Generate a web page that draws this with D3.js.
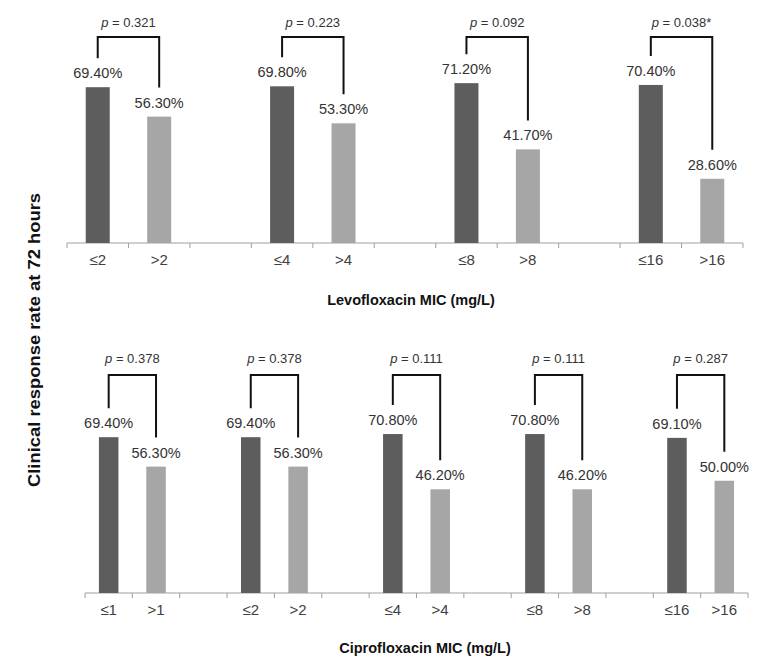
<!DOCTYPE html>
<html>
<head>
<meta charset="utf-8">
<script src="https://cdn.jsdelivr.net/npm/d3@7"></script>
<style>
  html, body { margin: 0; padding: 0; background: #fff; }
  svg { display: block; font-family: "Liberation Sans", Arial, sans-serif; }
</style>
</head>
<body>
<svg id="chart" width="766" height="664"></svg>
<script>
// ---- data ----
const levoLow = ["≤2", "≤4", "≤8", "≤16"];
const levoHigh = [">2", ">4", ">8", ">16"];
const levoLowRate = [69.4, 69.8, 71.2, 70.4];
const levoHighRate = [56.3, 53.3, 41.7, 28.6];
const levoP = ["0.321", "0.223", "0.092", "0.038*"];

const ciproLow = ["≤1", "≤2", "≤4", "≤8", "≤16"];
const ciproHigh = [">1", ">2", ">4", ">8", ">16"];
const ciproLowRate = [69.4, 69.4, 70.8, 70.8, 69.1];
const ciproHighRate = [56.3, 56.3, 46.2, 46.2, 50.0];
const ciproP = ["0.378", "0.378", "0.111", "0.111", "0.287"];

const yTitle = "Clinical response rate at 72 hours";
const levoTitle = "Levofloxacin MIC (mg/L)";
const ciproTitle = "Ciprofloxacin MIC (mg/L)";

// ---- drawing ----
const svg = d3.select("#chart");
svg.append("rect").attr("width", 766).attr("height", 664).attr("fill", "#fff");

const darkColor = "#5d5d5d";
const lightColor = "#a6a6a6";
const textColor = "#333";

function drawPanel(cfg) {
  const n = cfg.low.length;
  const slots = [];
  for (let i = 0; i < n; i++) {
    slots.push("L" + i, "H" + i);
    if (i < n - 1) slots.push("G" + i);
  }
  const x = d3.scaleBand().domain(slots).range(cfg.xRange).padding(0);
  const y = d3.scaleLinear().domain([0, 100]).range(cfg.yRange);
  const g = svg.append("g");
  const bw = x.bandwidth();
  const y0 = y(0);

  // axis line with boundary ticks
  g.append("line")
    .attr("x1", cfg.xRange[0]).attr("x2", cfg.xRange[1])
    .attr("y1", y0).attr("y2", y0)
    .attr("stroke", "#a0a0a0").attr("stroke-width", 1.2);
  const bounds = slots.map(s => x(s)).concat([cfg.xRange[1]]);
  g.selectAll(".tk").data(bounds).enter().append("line")
    .attr("x1", d => d).attr("x2", d => d)
    .attr("y1", y0).attr("y2", y0 + 5)
    .attr("stroke", "#a0a0a0").attr("stroke-width", 1);

  const groups = d3.range(n).map(i => ({
    i,
    low: cfg.low[i], high: cfg.high[i],
    lowRate: cfg.lowRate[i], highRate: cfg.highRate[i],
    p: cfg.p[i]
  }));

  groups.forEach(d => {
    const cl = x("L" + d.i) + bw / 2;
    const ch = x("H" + d.i) + bw / 2;
    const tl = y(d.lowRate), th = y(d.highRate);
    // bars
    g.append("rect").attr("x", cl - cfg.barW / 2).attr("y", tl)
      .attr("width", cfg.barW).attr("height", y0 - tl).attr("fill", darkColor);
    g.append("rect").attr("x", ch - cfg.barW / 2).attr("y", th)
      .attr("width", cfg.barW).attr("height", y0 - th).attr("fill", lightColor);
    // value labels
    g.append("text").attr("x", cl).attr("y", tl - 9).attr("text-anchor", "middle")
      .attr("font-size", "14.5px").attr("fill", textColor)
      .text(d.lowRate.toFixed(2) + "%");
    g.append("text").attr("x", ch).attr("y", th - 9).attr("text-anchor", "middle")
      .attr("font-size", "14.5px").attr("fill", textColor)
      .text(d.highRate.toFixed(2) + "%");
    // category labels
    g.append("text").attr("x", cl).attr("y", y0 + cfg.tickLabelDy).attr("text-anchor", "middle")
      .attr("font-size", "15px").attr("fill", "#404040").text(d.low);
    g.append("text").attr("x", ch).attr("y", y0 + cfg.tickLabelDy).attr("text-anchor", "middle")
      .attr("font-size", "15px").attr("fill", "#404040").text(d.high);
    // bracket
    const by = cfg.bracketY;
    g.append("path")
      .attr("d", `M${cl},${tl - 29}V${by}H${ch}V${th - 29}`)
      .attr("fill", "none").attr("stroke", "#111").attr("stroke-width", 2);
    const pt = g.append("text").attr("x", (cl + ch) / 2).attr("y", cfg.pY)
      .attr("text-anchor", "middle").attr("font-size", "13px").attr("fill", textColor);
    pt.append("tspan").attr("font-style", "italic").text("p");
    pt.append("tspan").text(" = " + d.p);
  });

  // axis title
  svg.append("text").attr("x", cfg.titleX).attr("y", cfg.titleY)
    .attr("text-anchor", "middle").attr("font-size", "14.5px").attr("font-weight", "bold")
    .attr("fill", "#111").text(cfg.title);
}

drawPanel({
  low: levoLow, high: levoHigh, lowRate: levoLowRate, highRate: levoHighRate, p: levoP,
  xRange: [67, 743], yRange: [243, 18.5], barW: 24,
  bracketY: 37, pY: 27, tickLabelDy: 22, title: levoTitle, titleX: 411, titleY: 305
});

drawPanel({
  low: ciproLow, high: ciproHigh, lowRate: ciproLowRate, highRate: ciproHighRate, p: ciproP,
  xRange: [85, 748], yRange: [593, 368.5], barW: 19.5,
  bracketY: 375, pY: 363, tickLabelDy: 22, title: ciproTitle, titleX: 425, titleY: 653
});

svg.append("text")
  .attr("transform", "translate(40,340) rotate(-90)")
  .attr("text-anchor", "middle").attr("font-size", "16px").attr("font-weight", "bold")
  .attr("textLength", 294).attr("lengthAdjust", "spacingAndGlyphs")
  .attr("fill", "#111").text(yTitle);
</script>
</body>
</html>
